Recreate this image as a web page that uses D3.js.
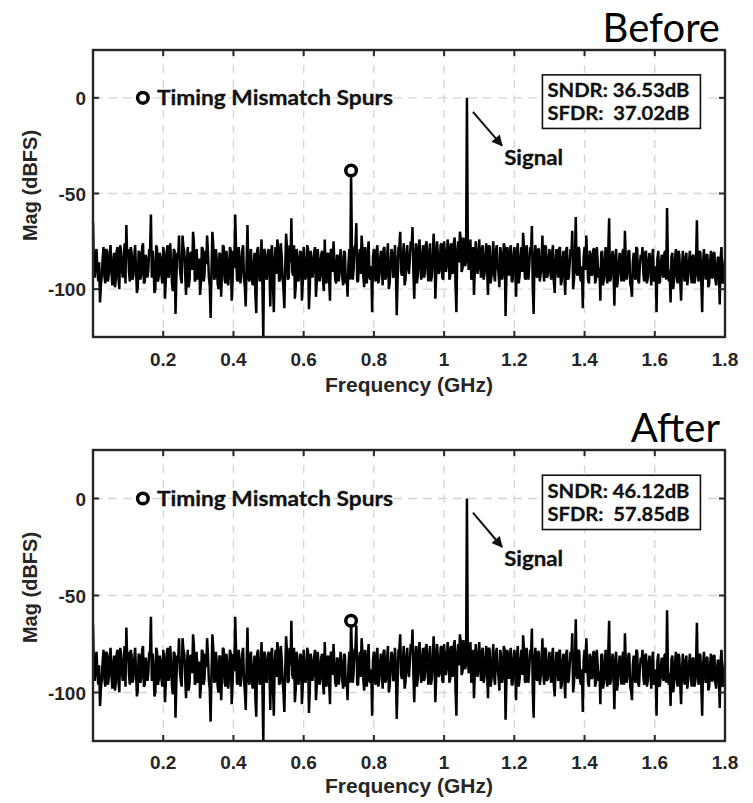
<!DOCTYPE html>
<html><head><meta charset="utf-8">
<script src="https://cdn.jsdelivr.net/npm/d3@7"></script>
<style>body{margin:0;background:#fff}svg{display:block}</style>
</head><body>
<svg id="chart" width="753" height="803"></svg>
<script>
// ---------------- data ----------------
const freqStep = 0.005; // GHz between the bins of noiseDb
// bins at f = i * freqStep
const noiseDb = [
-65,-94,-79,-96,-107,-93,-78,-97,-80,-92,-77,-98,-81,-95,-78,-100,-80,-94,-76,-66.5,
-79,-96,-81,-93,-77,-102,-80,-95,-78,-97,-82,-94,-79,-61,-80,-102,-77,-96,-81,-93,
-78,-105,-80,-94,-76,-97,-79,-113,-81,-72,-94,-72,-80,-103,-78,-95,-81,-70,-96,-79,
-95,-103,-78,-96,-80,-72,-94,-115,-70,-95,-79,-97,-81,-104,-77,-95,-80,-98,-78,-106,
-80,-61,-95,-78,-97,-80,-94,-109,-66.5,-96,-79,-98,-81,-112.5,-78,-96,-74,-126,-80,-95,
-79,-109,-77,-112,-78,-74,-96,-76,-94,-110,-71,-95,-77,-63,-93,-105,-79,-96,-80,-106,
-78,-95,-77,-110.5,-80,-94,-81,-104,-79,-96,-82,-95,-74,-97,-81,-106,-80,-75,-95,-82,
-96,-79,-94,-80,-97,-104,-79,-84,-95,-78,-65.5,-96,-79,-72,-94,-78,-97,-75,-95,-112,
-79,-96,-77,-94,-80,-98,-78,-93,-76,-97,-79,-94,-77,-113.6,-78,-70,-93,-76,-95,-77,
-92,-75,-67.5,-105,-76,-93,-74,-95,-77,-92,-75,-96,-76,-93,-71,-105,-75,-92,-77,-94,
-75,-91,-74,-95,-76,-92,-73,-112,-75,-70,-91,-73,-88,-72,-90,-74,-93,-103,-75,-92,
-74,-94,-77,-92,-76,-103,-78,-93,-75,-96,-77,-92,-78,-95,-76,-114,-78,-93,-77,-96,
-78,-104,-76,-93,-78,-70.5,-94,-77,-95,-78,-67,-113,-77,-94,-79,-92,-72,-96,-78,-93,
-79,-95,-77,-102,-79,-94,-78,-96,-80,-103,-78,-94,-79,-69.5,-95,-62.3,-93,-79,-96,-110,
-78,-72,-95,-80,-93,-79,-97,-78,-94,-106,-80,-95,-78,-97,-63,-94,-80,-108.6,-79,-95,
-81,-96,-79,-69.5,-95,-80,-97,-104,-81,-95,-79,-97,-82,-78,-96,-80,-94,-81,-98,-79,
-95,-112,-80,-96,-82,-94,-80,-57.6,-96,-107,-81,-95,-79,-97,-82,-106,-80,-96,-81,-94,
-80,-97,-82,-95,-64,-96,-81,-112,-79,-95,-82,-97,-80,-94,-81,-98,-83,-108,-78,-96,
-84
];
// bins half-way between, at f = (i + 0.5) * freqStep
const noiseMidDb = [
-88,-83,-90,-86,-98,-84,-93,-79,-96,-82,-91,-86,-99,-80,-94,-77,-90,-85,-97,-84,
-91,-78,-95,-83,-89,-99,-81,-92,-76,-96,-85,-90,-80,-94,-87,-100,-79,-93,-84,-97,
-82,-95,-77,-91,-86,-101,-80,-94,-83,-89,-97,-78,-92,-85,-99,-81,-90,-76,-95,-88,
-84,-96,-79,-93,-87,-81,-98,-90,-77,-94,-85,-100,-82,-91,-78,-97,-86,-92,-80,-95,
-89,-79,-96,-84,-91,-77,-99,-86,-93,-81,-95,-88,-103,-80,-92,-85,-97,-79,-94,-83,
-90,-80,-97,-85,-92,-78,-95,-83,-100,-88,-79,-94,-86,-91,-77,-98,-84,-93,-81,-96,
-87,-92,-79,-99,-84,-90,-78,-96,-85,-93,-80,-101,-88,-82,-95,-79,-91,-86,-97,-83,
-90,-85,-98,-81,-93,-87,-95,-80,-89,-77,-96,-84,-92,-79,-99,-86,-81,-94,-88,-83,
-92,-80,-97,-85,-90,-79,-95,-83,-100,-87,-81,-93,-86,-96,-78,-91,-84,-98,-82,-89,
-84,-79,-91,-82,-97,-78,-89,-83,-94,-77,-88,-81,-96,-85,-79,-92,-83,-90,-76,-95,
-82,-87,-78,-93,-84,-76,-98,-80,-86,-74,-89,-79,-85,-80,-83,-95,-78,-90,-81,-88,
-85,-79,-95,-83,-90,-77,-97,-84,-92,-80,-88,-99,-82,-91,-78,-94,-86,-80,-96,-83,
-89,-80,-97,-84,-91,-78,-95,-86,-88,-81,-99,-83,-92,-79,-96,-85,-90,-77,-94,-84,
-91,-81,-96,-86,-89,-79,-98,-84,-93,-80,-95,-87,-82,-100,-85,-91,-78,-94,-88,-83,
-90,-84,-97,-82,-92,-79,-95,-86,-89,-81,-98,-85,-93,-80,-96,-84,-91,-83,-99,-87,
-89,-82,-96,-85,-91,-80,-99,-86,-93,-78,-95,-88,-84,-92,-81,-97,-85,-90,-83,-96,
-88,-84,-97,-86,-92,-81,-95,-87,-90,-83,-100,-85,-93,-80,-96,-88,-91,-84,-98,-86,
-90,-83,-97,-85,-92,-80,-96,-87,-89,-82,-99,-86,-94,-81,-95,-88,-91,-84,-97,-89
];
const spurFreq = 0.735;
const spurLevels = [-38, -63];          // Before, After
const signalFreq = 1.065;
const signalDb = 0;
const panelTitles = ["Before", "After"];
const sndrValues = ["36.53", "46.12"];
const sfdrValues = ["37.02", "57.85"];
const xTicks = [0.2, 0.4, 0.6, 0.8, 1, 1.2, 1.4, 1.6, 1.8];
const yTicks = [0, -50, -100];
const xDomain = [0, 1.8];
const yDomain = [-125, 25];

// ---------------- layout ----------------
const layout = [
  {top: 50, bottom: 337, tickGap: 29, labelGap: 55},
  {top: 450, bottom: 741, tickGap: 28, labelGap: 52}
];
const left = 93, right = 725;
const axisFont = "'Liberation Sans', Arial, sans-serif";
const noteFont = "Lato, 'Open Sans', sans-serif";

const svg = d3.select("#chart");
const defs = svg.append("defs");
defs.append("marker").attr("id", "arrowHead").attr("viewBox", "0 0 10 10")
  .attr("refX", 9).attr("refY", 5).attr("markerWidth", 14).attr("markerHeight", 11)
  .attr("markerUnits", "userSpaceOnUse").attr("orient", "auto")
  .append("path").attr("d", "M0,0 L10,5 L0,10 Z").attr("fill", "#111");

const x = d3.scaleLinear().domain(xDomain).range([left, right]);
const spurIndex = Math.round(spurFreq / freqStep);
const signalIndex = Math.round(signalFreq / freqStep);

layout.forEach((L, p) => {
  const y = d3.scaleLinear().domain(yDomain).range([L.bottom, L.top]);
  const g = svg.append("g");
  const clipId = "clip" + p;
  defs.append("clipPath").attr("id", clipId).append("rect")
    .attr("x", left).attr("y", L.top).attr("width", right - left).attr("height", L.bottom - L.top);

  // grid
  g.append("g").selectAll("line").data(xTicks).join("line")
    .attr("x1", d => x(d)).attr("x2", d => x(d)).attr("y1", L.top).attr("y2", L.bottom)
    .attr("stroke", "#d6d6d6").attr("stroke-width", 1.4).attr("stroke-dasharray", "8,7");
  g.append("g").selectAll("line").data(yTicks).join("line")
    .attr("y1", d => y(d)).attr("y2", d => y(d)).attr("x1", left).attr("x2", right)
    .attr("stroke", "#d6d6d6").attr("stroke-width", 1.4).attr("stroke-dasharray", "9,6");

  // spectrum: interleave main bins and half-way bins
  const series = [];
  noiseDb.forEach((v, i) => {
    series.push({f: i * freqStep,
      db: i === spurIndex ? spurLevels[p] : (i === signalIndex ? signalDb : v)});
    if (i < noiseMidDb.length) series.push({f: (i + 0.5) * freqStep, db: noiseMidDb[i]});
  });
  g.append("path").datum(series)
    .attr("clip-path", `url(#${clipId})`)
    .attr("fill", "none").attr("stroke", "#000").attr("stroke-width", 2.5)
    .attr("stroke-linejoin", "bevel")
    .attr("d", d3.line().x(d => x(d.f)).y(d => y(d.db)));

  // spur marker
  g.append("circle").attr("cx", x(spurIndex * freqStep)).attr("cy", y(spurLevels[p]))
    .attr("r", 5.3).attr("fill", "#fff").attr("stroke", "#000").attr("stroke-width", 3.5);

  // legend
  g.append("circle").attr("cx", x(0.142)).attr("cy", y(0))
    .attr("r", 5.3).attr("fill", "#fff").attr("stroke", "#000").attr("stroke-width", 3.5);
  g.append("text").attr("x", x(0.182)).attr("y", y(0) + 7)
    .attr("font-family", noteFont).attr("font-weight", 700).attr("font-size", 21)
    .attr("textLength", 236).attr("lengthAdjust", "spacingAndGlyphs")
    .attr("fill", "#111").attr("stroke", "#111").attr("stroke-width", 0.3)
    .text("Timing Mismatch Spurs");

  // SNDR / SFDR box
  const bx = x(1.28), bw = 158;
  g.append("rect").attr("x", bx).attr("y", y(12)).attr("width", bw).attr("height", y(-16) - y(12))
    .attr("fill", "#fff").attr("stroke", "#111").attr("stroke-width", 1.6);
  [["SNDR: " + sndrValues[p] + "dB", -1], ["SFDR:  " + sfdrValues[p] + "dB", 22]].forEach(([t, dy]) => {
    g.append("text").attr("x", bx + 5).attr("y", y(0) + dy)
      .attr("font-family", noteFont).attr("font-weight", 700).attr("font-size", 19)
      .attr("textLength", 142).attr("lengthAdjust", "spacingAndGlyphs")
      .attr("stroke", "#111").attr("stroke-width", 0.3)
      .style("white-space", "pre").attr("fill", "#111").text(t);
  });

  // signal annotation
  g.append("line").attr("x1", x(1.082)).attr("y1", y(-7.3)).attr("x2", x(1.165)).attr("y2", y(-25))
    .attr("stroke", "#111").attr("stroke-width", 2).attr("marker-end", "url(#arrowHead)");
  g.append("text").attr("x", x(1.171)).attr("y", y(-35))
    .attr("font-family", noteFont).attr("font-weight", 700).attr("font-size", 20)
    .attr("textLength", 59).attr("lengthAdjust", "spacingAndGlyphs")
    .attr("stroke", "#111").attr("stroke-width", 0.3)
    .attr("fill", "#111").text("Signal");

  // axes box with mirrored inward ticks
  const ax = g.append("g").attr("stroke", "#262626").attr("stroke-width", 2);
  xTicks.forEach(t => {
    ax.append("line").attr("x1", x(t)).attr("x2", x(t)).attr("y1", L.bottom).attr("y2", L.bottom - 6);
    ax.append("line").attr("x1", x(t)).attr("x2", x(t)).attr("y1", L.top).attr("y2", L.top + 6);
  });
  yTicks.forEach(t => {
    ax.append("line").attr("y1", y(t)).attr("y2", y(t)).attr("x1", left).attr("x2", left + 6);
    ax.append("line").attr("y1", y(t)).attr("y2", y(t)).attr("x1", right).attr("x2", right - 6);
  });
  g.append("rect").attr("x", left).attr("y", L.top).attr("width", right - left).attr("height", L.bottom - L.top)
    .attr("fill", "none").attr("stroke", "#262626").attr("stroke-width", 2.4);

  // tick labels
  g.append("g").selectAll("text").data(xTicks).join("text")
    .attr("x", d => x(d)).attr("y", L.bottom + L.tickGap).attr("text-anchor", "middle")
    .attr("font-family", axisFont).attr("font-weight", 700).attr("font-size", 19).attr("fill", "#262626")
    .text(d => d3.format("~g")(d));
  g.append("g").selectAll("text").data(yTicks).join("text")
    .attr("x", left - 7).attr("y", d => y(d) + 7).attr("text-anchor", "end")
    .attr("font-family", axisFont).attr("font-weight", 700).attr("font-size", 19).attr("fill", "#262626")
    .text(d => d);

  // axis labels
  g.append("text").attr("x", (left + right) / 2).attr("y", L.bottom + L.labelGap).attr("text-anchor", "middle")
    .attr("font-family", axisFont).attr("font-weight", 700).attr("font-size", 21).attr("fill", "#262626")
    .text("Frequency (GHz)");
  const cy = (L.top + L.bottom) / 2 - 8;
  g.append("text").attr("transform", `translate(37,${cy}) rotate(-90)`).attr("text-anchor", "middle")
    .attr("font-family", axisFont).attr("font-weight", 700).attr("font-size", 20).attr("fill", "#262626")
    .text("Mag (dBFS)");

  // panel title
  g.append("text").attr("x", 720).attr("y", L.top - 8).attr("text-anchor", "end")
    .attr("font-family", noteFont).attr("font-weight", 400).attr("font-size", 40).attr("fill", "#000")
    .text(panelTitles[p]);
});
</script>
</body></html>
